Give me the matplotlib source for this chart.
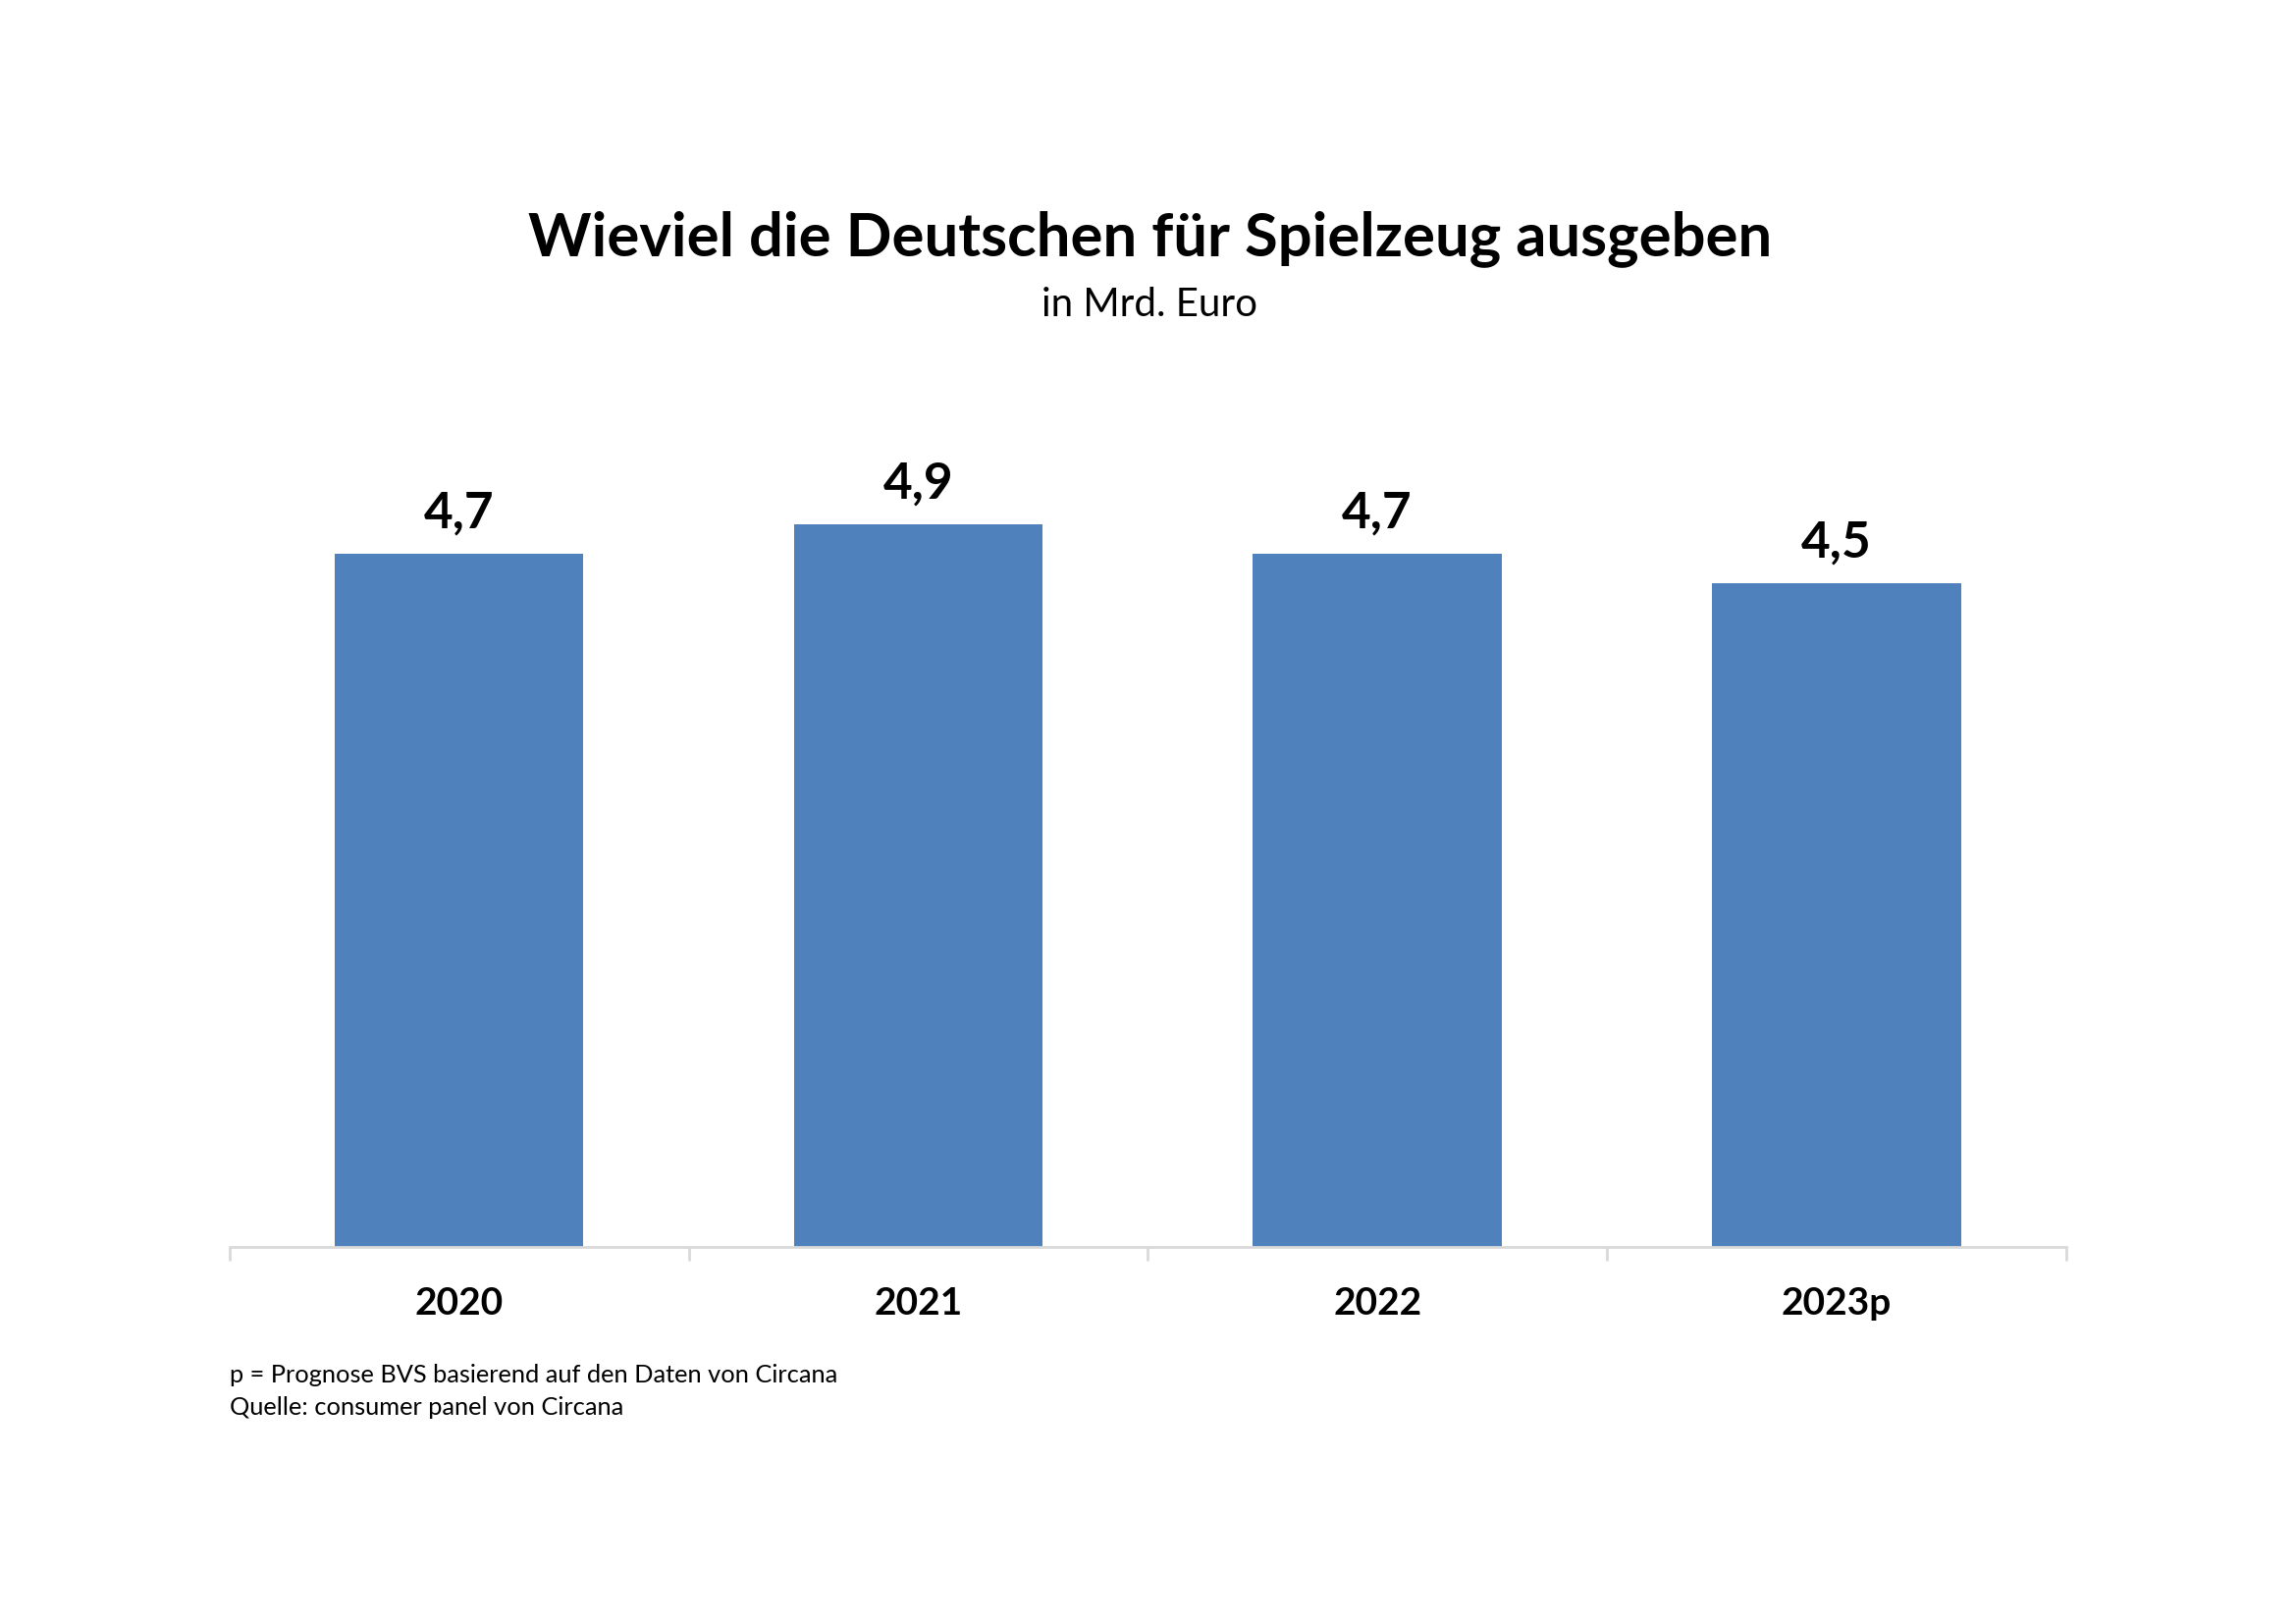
import matplotlib
matplotlib.use("Agg")
import matplotlib.pyplot as plt

# data
years = ["2020", "2021", "2022", "2023p"]
values = [4.7, 4.9, 4.7, 4.5]
value_labels = ["4,7", "4,9", "4,7", "4,5"]

plt.rcParams['font.family'] = ['Lato', 'DejaVu Sans']

fig = plt.figure(figsize=(23.39, 16.53), dpi=100)
ax = fig.add_axes([0.1000, 0.2320, 0.7998, 0.5452])

x = range(len(years))
bars = ax.bar(x, values, width=0.542, color="#4F81BD", zorder=2)
ax.set_xlim(-0.5, len(years) - 0.5)
ax.set_ylim(0, 6)

for b, lab in zip(bars, value_labels):
    ax.annotate(lab, (b.get_x() + b.get_width() / 2, b.get_height()),
                xytext=(0, 12), textcoords="offset points",
                ha="center", va="bottom", fontsize=37, fontweight="bold")

for s in ["top", "right", "left"]:
    ax.spines[s].set_visible(False)
ax.spines["bottom"].set_color("#d9d9d9")
ax.spines["bottom"].set_linewidth(2)
ax.set_yticks([])

# tick marks between categories
ax.set_xticks([i - 0.5 for i in range(len(years) + 1)], minor=False)
ax.set_xticklabels([])
ax.tick_params(axis="x", length=10, width=2, color="#d9d9d9")
ax.set_xticks(list(x), minor=True)
ax.set_xticklabels(years, minor=True, fontsize=28, fontweight="bold")
ax.tick_params(axis="x", which="minor", length=0, pad=29)

fig.text(0.5007, 0.853, "Wieviel die Deutschen für Spielzeug ausgeben",
         ha="center", va="center", fontsize=44.3, fontweight="bold")
fig.text(0.5007, 0.812, "in Mrd. Euro", ha="center", va="center", fontsize=29)

fig.text(0.1000, 0.1530, "p = Prognose BVS basierend auf den Daten von Circana",
         ha="left", va="center", fontsize=18.3)
fig.text(0.1000, 0.1330, "Quelle: consumer panel von Circana",
         ha="left", va="center", fontsize=18.3)

fig.savefig("out.png", dpi=100)
